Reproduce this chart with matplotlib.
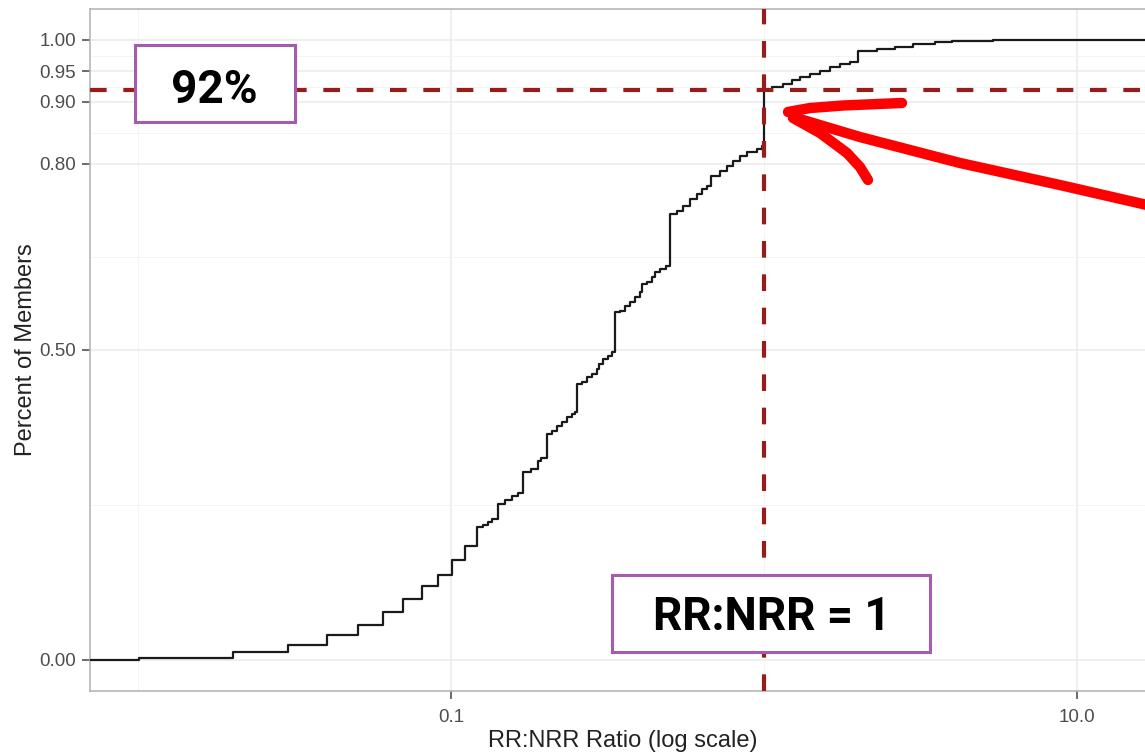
import numpy as np
import matplotlib
matplotlib.use("Agg")
import matplotlib.pyplot as plt
from matplotlib.patches import Rectangle
from matplotlib.ticker import NullFormatter

# ---- data ----
ratio_steps = [0.0101, 0.0201, 0.0301, 0.0402, 0.0504, 0.0606, 0.0703, 0.0808, 0.0909, 0.1007,
               0.1109, 0.1211, 0.1266, 0.1313, 0.1352, 0.1413, 0.1487, 0.1566, 0.1637, 0.1698,
               0.1801, 0.1897, 0.1939, 0.2026, 0.2102, 0.2181, 0.2262, 0.2347, 0.2435, 0.2490,
               0.2527, 0.2621, 0.2719, 0.2821, 0.2927, 0.2970, 0.3059, 0.3174, 0.3269, 0.3342,
               0.3467, 0.3598, 0.3733, 0.3873, 0.4018, 0.4077, 0.4230, 0.4387, 0.4485, 0.4652,
               0.4863, 0.5000, 0.5273, 0.5511, 0.5802, 0.6108, 0.6338, 0.6575, 0.6773, 0.7236,
               0.7617, 0.7962, 0.8382, 0.8825, 0.9497, 0.9854, 1.000, 1.061, 1.150, 1.229,
               1.303, 1.403, 1.510, 1.625, 1.749, 1.883, 2.000, 2.296, 2.621, 3.000,
               3.518, 4.000, 5.390]
cum_share = [0.003, 0.013, 0.024, 0.040, 0.056, 0.077, 0.098, 0.119, 0.137, 0.161,
             0.184, 0.215, 0.218, 0.223, 0.227, 0.252, 0.258, 0.265, 0.269, 0.303,
             0.308, 0.321, 0.326, 0.365, 0.369, 0.377, 0.384, 0.392, 0.397, 0.400,
             0.445, 0.448, 0.456, 0.461, 0.469, 0.477, 0.485, 0.490, 0.497, 0.561,
             0.563, 0.571, 0.577, 0.585, 0.594, 0.606, 0.610, 0.618, 0.626, 0.631,
             0.635, 0.719, 0.724, 0.732, 0.744, 0.752, 0.760, 0.765, 0.781, 0.789,
             0.797, 0.805, 0.813, 0.819, 0.824, 0.829, 0.920, 0.924, 0.929, 0.935,
             0.940, 0.945, 0.950, 0.956, 0.961, 0.965, 0.982, 0.985, 0.989, 0.994,
             0.997, 0.998, 1.000]

y_ticks = [0.00, 0.50, 0.80, 0.90, 0.95, 1.00]
y_tick_labels = ["0.00", "0.50", "0.80", "0.90", "0.95", "1.00"]
y_minor = [0.25, 0.65, 0.85, 0.925, 0.975]
x_ticks = [0.1, 10.0]
x_tick_labels = ["0.1", "10.0"]
x_minor = [0.01, 1.0]

share_line = 0.92
ratio_line = 1.0
label_share = "92%"
label_ratio = "RR:NRR = 1"

# ---- figure ----
W, H = 1145, 752
fig = plt.figure(figsize=(W / 100, H / 100), dpi=100)
ax = fig.add_axes([90 / W, 61 / H, 1066 / W, 682 / H])

xmin, xmax = 0.00702, 17.9
ax.set_xscale("log")
ax.set_xlim(xmin, xmax)
ax.set_ylim(-0.05, 1.05)

# ticks & grid
ax.set_xticks(x_ticks)
ax.set_xticklabels(x_tick_labels)
ax.set_xticks(x_minor, minor=True)
ax.xaxis.set_minor_formatter(NullFormatter())
ax.set_yticks(y_ticks)
ax.set_yticklabels(y_tick_labels)
ax.set_yticks(y_minor, minor=True)
ax.yaxis.set_minor_formatter(NullFormatter())
ax.grid(True, which="major", color="#ebebeb", lw=1.1, zorder=0)
ax.grid(True, which="minor", color="#f4f4f4", lw=0.7, zorder=0)
ax.set_axisbelow(True)

ax.tick_params(which="major", length=6, width=1.1, color="#444444",
               labelsize=13.5, labelcolor="#4d4d4d")
ax.tick_params(axis="y", which="major", pad=4)
ax.tick_params(axis="x", which="major", pad=7)
ax.tick_params(which="minor", length=0)
for lab in ax.get_xticklabels() + ax.get_yticklabels():
    lab.set_fontfamily("Liberation Sans")
for s in ax.spines.values():
    s.set_color("#b0b0b0")
    s.set_linewidth(1.1)

# ECDF step curve
xs = np.concatenate([[xmin], ratio_steps, [xmax * 2]])
ys = np.concatenate([[0.0], cum_share, [1.0]])
ax.step(xs, ys, where="post", color="#1a1a1a", lw=1.6, zorder=3)

# reference lines
ax.axhline(share_line, color="#981c1c", lw=3, ls=(0, (4, 4)), zorder=4)
ax.axvline(ratio_line, color="#981c1c", lw=3, ls=(0, (4, 4)), zorder=4)

# labels
ax.set_xlabel("RR:NRR Ratio (log scale)", fontsize=17, color="#222222",
              family="Liberation Sans", labelpad=3)
ax.set_ylabel("Percent of Members", fontsize=17, color="#222222",
              family="Liberation Sans", labelpad=2)

# annotation boxes
purple = "#a65bb0"
ax.add_patch(Rectangle((0.0422, 0.8343), 0.1501, 0.1129, transform=ax.transAxes,
                       facecolor="white", edgecolor=purple, lw=2.2, zorder=6))
ax.text(0.1163, 0.8622, label_share, transform=ax.transAxes, ha="center", va="baseline",
        fontsize=33, fontweight="bold", family="Roboto", color="black", zorder=7)
ax.add_patch(Rectangle((0.4897, 0.0572), 0.2983, 0.1129, transform=ax.transAxes,
                       facecolor="white", edgecolor=purple, lw=2.2, zorder=6))
ax.text(0.6398, 0.0894, label_ratio, transform=ax.transAxes, ha="center", va="baseline",
        fontsize=33, fontweight="bold", family="Roboto", color="black", zorder=7)

# hand-drawn red arrow
shaft = np.array([[0.6595, 0.8416], [0.7223, 0.8123], [0.8161, 0.7742],
                  [0.9099, 0.7419], [1.0100, 0.7060]])
head_up = np.array([[0.6548, 0.8490], [0.6754, 0.8548], [0.7064, 0.8585], [0.7617, 0.8622]])
head_lo = np.array([[0.6595, 0.8402], [0.6848, 0.8182], [0.7101, 0.7889],
                    [0.7223, 0.7683], [0.7298, 0.7493]])
for seg in (shaft, head_up, head_lo):
    ax.plot(seg[:, 0], seg[:, 1], transform=ax.transAxes, color="#ff0000", lw=7.5,
            solid_capstyle="round", solid_joinstyle="round", zorder=8, clip_on=False)

fig.savefig("out.png", dpi=100)
